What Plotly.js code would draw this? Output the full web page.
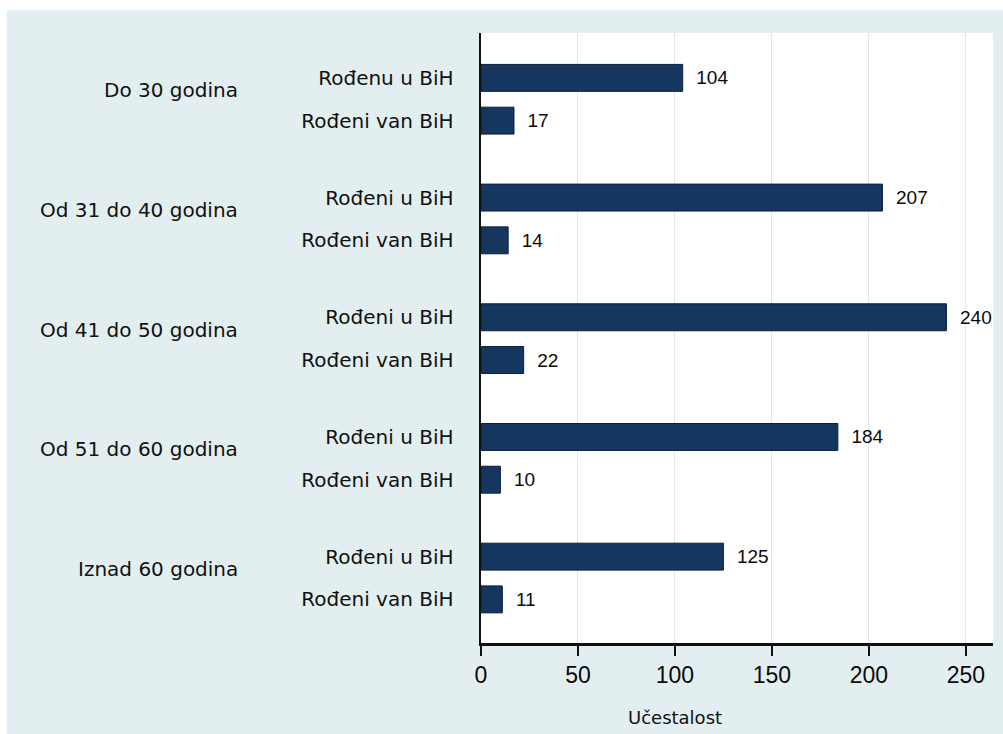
<!DOCTYPE html>
<html>
<head>
<meta charset="utf-8">
<script src="https://cdn.plot.ly/plotly-3.0.1.min.js"></script>
<style>
  html, body { margin: 0; padding: 0; background: #ffffff; }
  #chart { position: absolute; left: 7px; top: 10px; width: 996px; height: 724px; }
</style>
</head>
<body>
<div id="chart"></div>
<script>
// Data
const groupLabels = ["Do 30 godina", "Od 31 do 40 godina", "Od 41 do 50 godina", "Od 51 do 60 godina", "Iznad 60 godina"];
const innerLabels = ["Rođenu u BiH", "Rođeni van BiH", "Rođeni u BiH", "Rođeni van BiH", "Rođeni u BiH", "Rođeni van BiH", "Rođeni u BiH", "Rođeni van BiH", "Rođeni u BiH", "Rođeni van BiH"];
const bornInBiH = [104, 207, 240, 184, 125];
const bornOutsideBiH = [17, 14, 22, 10, 11];
const xTicks = [0, 50, 100, 150, 200, 250];
const xTitle = "Učestalost";

// Layout helpers (positions derived from indices)
const GROUP_STEP = 2.8;
const yPos = [], xVals = [];
groupLabels.forEach((g, i) => {
  yPos.push(i * GROUP_STEP); xVals.push(bornInBiH[i]);
  yPos.push(i * GROUP_STEP + 1); xVals.push(bornOutsideBiH[i]);
});
const groupMid = groupLabels.map((g, i) => i * GROUP_STEP + 0.5);

const trace = {
  type: 'bar',
  orientation: 'h',
  x: xVals,
  y: yPos,
  width: 0.63,
  marker: { color: '#15365f', line: { color: '#0b1f3d', width: 1 } },
  text: xVals.map(v => String(v)),
  texttemplate: '\u00a0\u00a0%{text}',
  textposition: 'outside',
  constraintext: 'none',
  cliponaxis: false,
  textfont: { family: 'Liberation Sans, Arial, sans-serif', size: 19, color: '#0a0a0a' },
  hoverinfo: 'x+y'
};

const annotations = groupLabels.map((g, i) => ({
  text: g,
  xref: 'paper', yref: 'y',
  x: (240 - 481) / 512, y: groupMid[i],
  xanchor: 'right', yanchor: 'middle',
  yshift: 9,
  showarrow: false,
  font: { family: 'DejaVu Sans, sans-serif', size: 20, color: '#111111' }
}));

// Axis title placed as in the reference (left of plot centre)
annotations.push({
  text: xTitle,
  xref: 'paper', yref: 'paper',
  x: (675 - 481) / 512, y: 0,
  xanchor: 'center', yanchor: 'middle',
  yshift: -(717 - 643),
  showarrow: false,
  font: { family: 'DejaVu Sans, sans-serif', size: 18, color: '#111111' }
});

const layout = {
  width: 996, height: 724,
  margin: { l: 474, r: 10, t: 23, b: 91 },
  paper_bgcolor: '#e3eef0',
  plot_bgcolor: '#ffffff',
  showlegend: false,
  bargap: 0,
  xaxis: {
    range: [0, 264],
    tickvals: xTicks,
    ticktext: xTicks.map(String),
    ticks: 'outside', ticklen: 10, tickwidth: 2, tickcolor: '#111111',
    showline: true, linecolor: '#111111', linewidth: 2.5,
    showgrid: true, gridcolor: '#e6e6e6', gridwidth: 1,
    zeroline: false,
    tickfont: { family: 'Liberation Sans, Arial, sans-serif', size: 23, color: '#0a0a0a' },
    fixedrange: true
  },
  yaxis: {
    range: [4 * GROUP_STEP + 1 + 1.02, -1.05],
    tickvals: yPos,
    ticktext: innerLabels,
    ticks: '',
    ticklabelstandoff: 21,
    showline: true, linecolor: '#111111', linewidth: 2.5,
    showgrid: false, zeroline: false,
    tickfont: { family: 'DejaVu Sans, sans-serif', size: 20, color: '#111111' },
    fixedrange: true
  },
  annotations: annotations
};

Plotly.newPlot('chart', [trace], layout, { displayModeBar: false, staticPlot: true });
</script>
</body>
</html>
